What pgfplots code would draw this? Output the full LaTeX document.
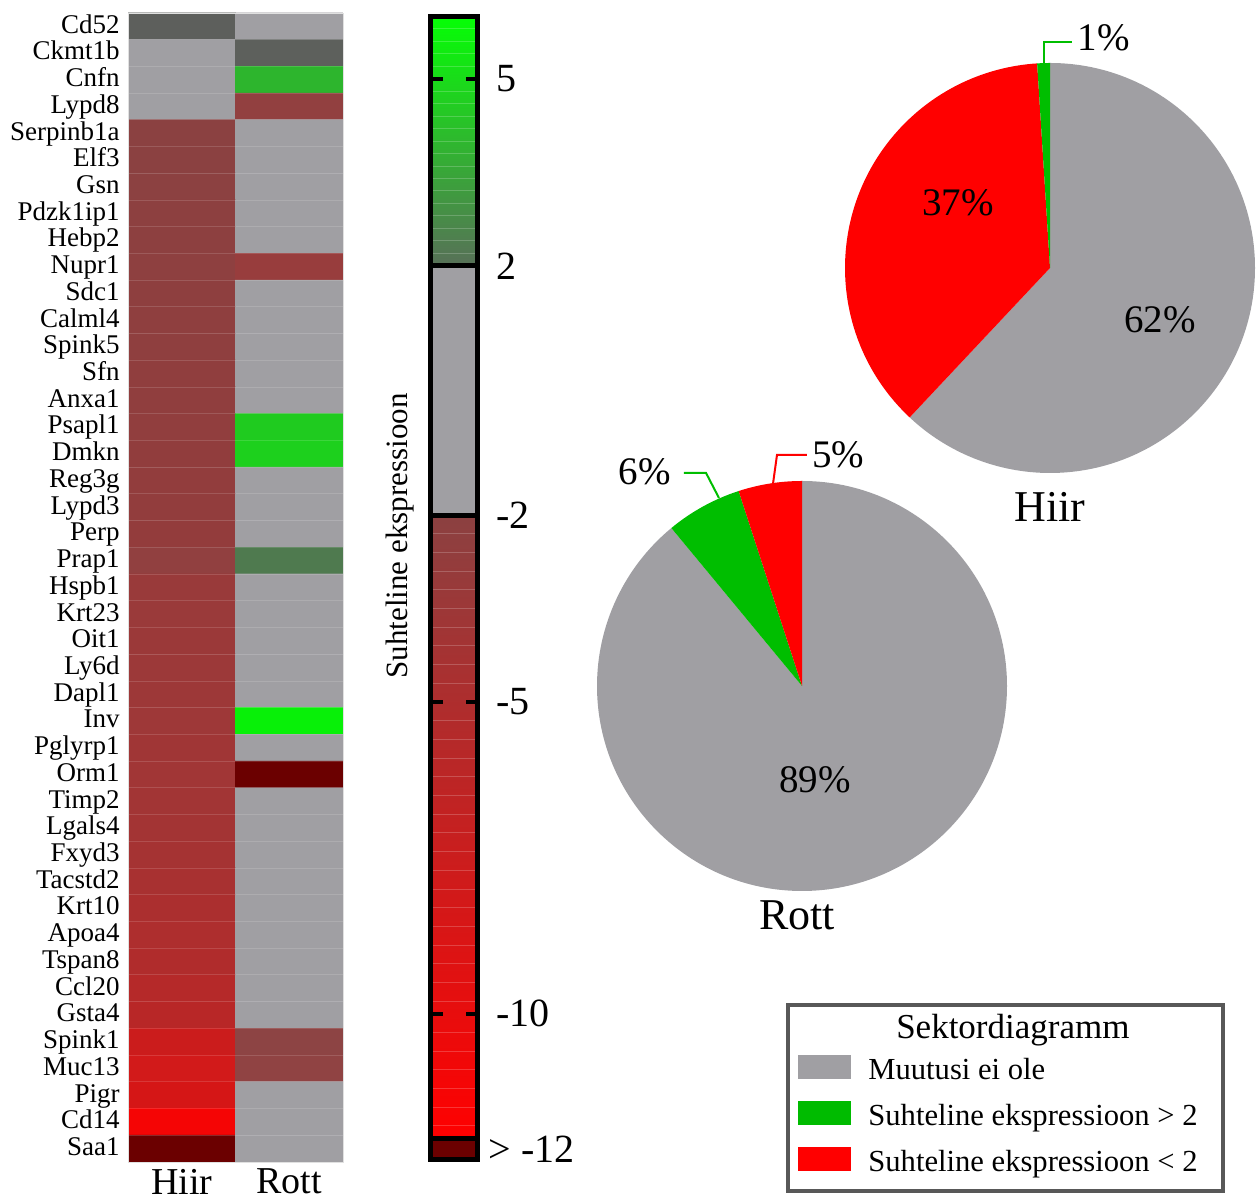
\documentclass[border=0pt]{standalone}
\usepackage{pgfplots}
\usepackage{pgfplotstable}
\pgfplotsset{compat=1.18}
\usepackage{fontspec}
\setmainfont{Liberation Serif}

\definecolor{nochange}{RGB}{160,159,163}
\definecolor{pgreen}{RGB}{0,190,0}
\definecolor{lgreen}{RGB}{0,187,0}
\definecolor{pred}{RGB}{255,0,0}
\definecolor{capred}{RGB}{107,0,0}
\definecolor{boxgray}{RGB}{88,88,88}
\definecolor{gLow}{RGB}{88,112,88}
\definecolor{gMid}{RGB}{45,185,45}
\definecolor{gHigh}{RGB}{5,255,5}
\definecolor{rLow}{RGB}{139,65,65}
\definecolor{rMid}{RGB}{192,38,38}
\definecolor{rHigh}{RGB}{255,0,0}

% cell colours: column x (0 = Hiir, 1 = Rott), row y (0 = Cd52 ... 42 = Saa1)
\pgfplotstableread{
x y r g b
0 0 93 95 92
1 0 160 159 163
0 1 160 159 163
1 1 93 96 92
0 2 160 159 163
1 2 45 181 45
0 3 160 159 163
1 3 146 64 64
0 4 139 65 65
1 4 160 159 163
0 5 139 65 65
1 5 160 159 163
0 6 140 65 65
1 6 160 159 163
0 7 141 64 64
1 7 160 159 163
0 8 141 64 64
1 8 160 159 163
0 9 142 64 64
1 9 152 61 61
0 10 142 63 63
1 10 160 159 163
0 11 143 63 63
1 11 160 159 163
0 12 143 63 63
1 12 160 159 163
0 13 144 62 62
1 13 160 159 163
0 14 144 62 62
1 14 160 159 163
0 15 145 62 62
1 15 31 203 31
0 16 145 61 61
1 16 29 208 29
0 17 146 61 61
1 17 160 159 163
0 18 146 61 61
1 18 160 159 163
0 19 147 60 60
1 19 160 159 163
0 20 145 64 64
1 20 79 122 79
0 21 153 58 58
1 21 160 159 163
0 22 154 58 58
1 22 160 159 163
0 23 155 57 57
1 23 160 159 163
0 24 156 57 57
1 24 160 159 163
0 25 157 56 56
1 25 160 159 163
0 26 158 56 56
1 26 8 240 8
0 27 160 54 54
1 27 160 159 163
0 28 161 54 54
1 28 107 0 0
0 29 162 53 53
1 29 160 159 163
0 30 163 52 52
1 30 160 159 163
0 31 165 51 51
1 31 160 159 163
0 32 168 49 49
1 32 160 159 163
0 33 171 47 47
1 33 160 159 163
0 34 174 46 46
1 34 160 159 163
0 35 176 44 44
1 35 160 159 163
0 36 181 41 41
1 36 160 159 163
0 37 184 39 39
1 37 160 159 163
0 38 203 28 28
1 38 141 68 68
0 39 210 26 26
1 39 144 67 67
0 40 213 22 22
1 40 160 159 163
0 41 245 5 5
1 41 160 159 163
0 42 107 0 0
1 42 160 159 163
}\heatdata

\begin{document}
\begin{tikzpicture}
\path[use as bounding box] (0,0) rectangle (629pt,601.5pt);

% ---------------- heat map ----------------
\begin{axis}[
  at={(64pt,20.5pt)}, anchor=south west,
  scale only axis, width=107.5pt, height=574.5pt,
  xmin=-0.5, xmax=1.5, ymin=-0.5, ymax=42.5, y dir=reverse,
  enlargelimits=false,
  xtick={0,1}, xticklabels={Hiir,Rott},
  ytick={0,...,42},
  yticklabels={Cd52,Ckmt1b,Cnfn,Lypd8,Serpinb1a,Elf3,Gsn,Pdzk1ip1,Hebp2,Nupr1,Sdc1,Calml4,Spink5,Sfn,Anxa1,Psapl1,Dmkn,Reg3g,Lypd3,Perp,Prap1,Hspb1,Krt23,Oit1,Ly6d,Dapl1,Inv,Pglyrp1,Orm1,Timp2,Lgals4,Fxyd3,Tacstd2,Krt10,Apoa4,Tspan8,Ccl20,Gsta4,Spink1,Muc13,Pigr,Cd14,Saa1},
  major tick length=0pt, minor tick length=0pt,
  minor ytick={0.5,1.5,...,41.5},
  yminorgrids, minor grid style={white, opacity=0.14, line width=0.5pt},
  axis on top,
  axis line style={draw=black!12, line width=0.4pt},
  yticklabel style={font=\fontsize{13.5}{14}\selectfont, anchor=east, text height=9.4pt, text depth=2.6pt, inner sep=0pt, xshift=-4pt},
  xticklabel style={font=\fontsize{19}{20}\selectfont},
]
\addplot[matrix plot*, mesh/cols=2,
  mesh/color input=explicit mathparse,
  point meta={symbolic={\thisrow{r}/255,\thisrow{g}/255,\thisrow{b}/255}}]
  table[x=x, y=y] {\heatdata};
\end{axis}

% ---------------- colour scale ----------------
\begin{axis}[
  at={(215.25pt,21.75pt)}, anchor=south west,
  scale only axis, width=23.5pt, height=571.5pt,
  xmin=0, xmax=1, ymin=-12.34, ymax=6,
  xtick=\empty,
  ytick={5,-5,-10}, yticklabels={5,-5,-10},
  extra y ticks={2,-2,-12.17}, extra y tick labels={2,-2,{\hspace*{-4pt}> -12}},
  extra y tick style={major tick length=0pt},
  yticklabel pos=right,
  tick align=inside, major tick length=6pt,
  tick style={line width=2pt, black},
  axis line style={line width=2.5pt},
  axis on top,
  yticklabel style={font=\fontsize{20}{22}\selectfont, xshift=6pt},
  every axis y label/.style={at={(axis description cs:-0.649,0.5455)}, rotate=90, anchor=center, font=\fontsize{15.5}{17}\selectfont},
  ylabel={Suhteline ekspressioon},
]
\addplot[draw=none, bottom color=rHigh, middle color=rMid, top color=rLow]
  coordinates {(0,-12) (1,-12) (1,-2) (0,-2)};
\addplot[draw=none, fill=nochange]
  coordinates {(0,-2) (1,-2) (1,2) (0,2)};
\addplot[draw=none, bottom color=gLow, middle color=gMid, top color=gHigh]
  coordinates {(0,2) (1,2) (1,6) (0,6)};
\addplot[draw=none, fill=capred]
  coordinates {(0,-12.34) (1,-12.34) (1,-12) (0,-12)};
% faint banding of the scale
\pgfplotsinvokeforeach{2.2,2.4,2.6,2.8,3.0,3.2,3.4,3.6,3.8,4.0,4.2,4.4,4.6,4.8,5.2,5.4,5.6,5.8,-2.3,-2.6,-2.9,-3.2,-3.5,-3.8,-4.1,-4.4,-4.7,-5.3,-5.6,-5.9,-6.2,-6.5,-6.8,-7.1,-7.4,-7.7,-8.0,-8.3,-8.6,-8.9,-9.2,-9.5,-9.8,-10.3,-10.6,-10.9,-11.2,-11.5,-11.8}{
  \draw[white, opacity=0.2, line width=0.5pt] (axis cs:0,#1) -- (axis cs:1,#1);
}
\draw[line width=2.5pt] (axis cs:0,2) -- (axis cs:1,2);
\draw[line width=2.5pt] (axis cs:0,-2) -- (axis cs:1,-2);
\draw[line width=2.5pt] (axis cs:0,-12) -- (axis cs:1,-12);
\end{axis}

% ---------------- pie: Hiir (62 / 37 / 1) ----------------
\begin{axis}[
  at={(422.5pt,365pt)}, anchor=south west,
  scale only axis, width=205pt, height=205pt,
  xmin=-1, xmax=1, ymin=-1, ymax=1, hide axis, clip=false,
]
\fill[nochange] (axis cs:0,0) -- (axis cs:{cos(90)},{sin(90)})
  arc[start angle=90, end angle={90-3.6*62}, radius=102.5pt] -- cycle;
\fill[pred] (axis cs:0,0) -- (axis cs:{cos(90-3.6*62)},{sin(90-3.6*62)})
  arc[start angle={90-3.6*62}, end angle={90-3.6*(62+37)}, radius=102.5pt] -- cycle;
\fill[pgreen] (axis cs:0,0) -- (axis cs:{cos(90-3.6*99)},{sin(90-3.6*99)})
  arc[start angle={90-3.6*99}, end angle={90-3.6*100}, radius=102.5pt] -- cycle;
\draw[pgreen, line width=1pt] (axis cs:-0.029,0.990) -- (axis cs:-0.029,1.102) -- (axis cs:0.107,1.102);
\node[font=\fontsize{19.5}{21}\selectfont] at (axis cs:-0.449,0.317) {37\%};
\node[font=\fontsize{19.5}{21}\selectfont] at (axis cs:0.537,-0.254) {62\%};
\node[font=\fontsize{19.5}{21}\selectfont] at (axis cs:0.263,1.122) {1\%};
\node[font=\fontsize{22}{24}\selectfont] at (axis cs:0,-1.166) {Hiir};
\end{axis}

% ---------------- pie: Rott (89 / 6 / 5) ----------------
\begin{axis}[
  at={(298.5pt,156pt)}, anchor=south west,
  scale only axis, width=205pt, height=205pt,
  xmin=-1, xmax=1, ymin=-1, ymax=1, hide axis, clip=false,
]
\fill[nochange] (axis cs:0,0) -- (axis cs:{cos(90)},{sin(90)})
  arc[start angle=90, end angle={90-3.6*89}, radius=102.5pt] -- cycle;
\fill[pgreen] (axis cs:0,0) -- (axis cs:{cos(90-3.6*89)},{sin(90-3.6*89)})
  arc[start angle={90-3.6*89}, end angle={90-3.6*(89+6)}, radius=102.5pt] -- cycle;
\fill[pred] (axis cs:0,0) -- (axis cs:{cos(90-3.6*95)},{sin(90-3.6*95)})
  arc[start angle={90-3.6*95}, end angle={90-3.6*100}, radius=102.5pt] -- cycle;
\draw[pgreen, line width=1pt] (axis cs:-0.405,0.917) -- (axis cs:-0.468,1.039) -- (axis cs:-0.576,1.039);
\draw[pred, line width=1pt] (axis cs:-0.141,0.990) -- (axis cs:-0.122,1.127) -- (axis cs:0.024,1.127);
\node[font=\fontsize{19.5}{21}\selectfont] at (axis cs:0.063,-0.459) {89\%};
\node[font=\fontsize{19.5}{21}\selectfont] at (axis cs:-0.766,1.044) {6\%};
\node[font=\fontsize{19.5}{21}\selectfont] at (axis cs:0.176,1.127) {5\%};
\node[font=\fontsize{22}{24}\selectfont] at (axis cs:-0.024,-1.117) {Rott};
\end{axis}

% ---------------- legend box ----------------
\begin{axis}[
  at={(394pt,6pt)}, anchor=south west,
  scale only axis, width=217.5pt, height=93pt,
  xmin=0, xmax=1, ymin=0, ymax=1,
  xtick=\empty, ytick=\empty,
  axis line style={line width=2pt, draw=boxgray},
  legend style={at={(0.023,0.731)}, anchor=north west, draw=none, fill=none,
    inner sep=0pt, row sep=7.25pt, column sep=8.5pt,
    nodes={inner sep=0pt, text height=11pt, text depth=3.5pt, anchor=west},
    font=\fontsize{15.3}{17}\selectfont},
  legend cell align=left,
  legend image code/.code={\fill[#1, draw=none] (0pt,-3.5pt) rectangle (26.5pt,8.5pt);},
]
\node[font=\fontsize{17.5}{20}\selectfont] at (rel axis cs:0.517,0.866) {Sektordiagramm};
\addlegendimage{fill=nochange}
\addlegendentry{Muutusi ei ole}
\addlegendimage{fill=lgreen}
\addlegendentry{Suhteline ekspressioon > 2}
\addlegendimage{fill=pred}
\addlegendentry{Suhteline ekspressioon < 2}
\end{axis}
\end{tikzpicture}
\end{document}
